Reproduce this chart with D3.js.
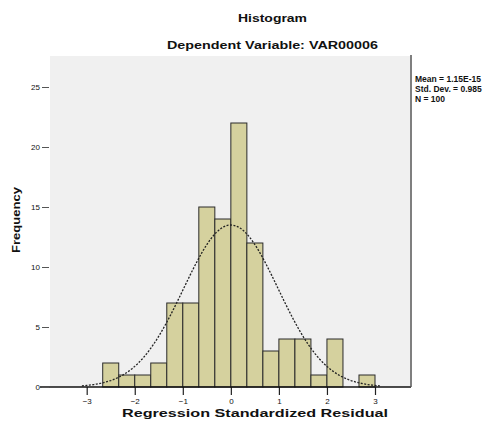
<!DOCTYPE html>
<html>
<head>
<meta charset="utf-8">
<script src="https://cdn.jsdelivr.net/npm/d3@7"></script>
<style>
	body { margin: 0; background: #fff; }
	text { font-family: "Liberation Sans", Arial, sans-serif; fill: #111; }
</style>
</head>
<body>
<div id="chart-area"></div>
<script>
// Data
var binStarts = [-8/3, -7/3, -2, -5/3, -4/3, -1, -2/3, -1/3, 0, 1/3, 2/3, 1, 4/3, 5/3, 2, 7/3, 8/3];
var counts = [2, 1, 1, 2, 7, 7, 15, 14, 22, 12, 3, 4, 4, 1, 4, 0, 1];
var binWidth = 1 / 3;
var xTicks = [-3, -2, -1, 0, 1, 2, 3];
var yTicks = [0, 5, 10, 15, 20, 25];
var stats = { mean: 1.15e-15, sd: 0.985, n: 100 };
var legendLines = ["Mean = 1.15E-15", "Std. Dev. = 0.985", "N = 100"];

var width = 490, height = 427;
var plot = { left: 50, right: 410, top: 56, bottom: 387 };

var svg = d3.select("#chart-area")
	.append("svg")
	.attr("width", width)
	.attr("height", height);

// Scales
var x = d3.scaleLinear()
	.domain([-3, 3])
	.range([86.7, 375]);

var y = d3.scaleLinear()
	.domain([0, 25])
	.range([plot.bottom, 87]);

// Plot background
svg.append("rect")
	.attr("x", plot.left)
	.attr("y", plot.top)
	.attr("width", plot.right - plot.left)
	.attr("height", plot.bottom - plot.top)
	.attr("fill", "#f0f0f0");

// Titles
svg.append("text")
	.attr("x", 272.5)
	.attr("y", 22)
	.attr("text-anchor", "middle")
	.attr("font-size", "11px")
	.attr("font-weight", "bold")
	.attr("textLength", 69)
	.attr("lengthAdjust", "spacingAndGlyphs")
	.text("Histogram");

svg.append("text")
	.attr("x", 272.5)
	.attr("y", 49)
	.attr("text-anchor", "middle")
	.attr("font-size", "11px")
	.attr("font-weight", "bold")
	.attr("textLength", 211)
	.attr("lengthAdjust", "spacingAndGlyphs")
	.text("Dependent Variable: VAR00006");

// Bars
svg.append("g")
	.attr("class", "bars")
	.selectAll("rect")
	.data(counts)
	.enter()
	.append("rect")
	.attr("x", function (d, i) { return x(binStarts[i]); })
	.attr("y", function (d) { return y(d); })
	.attr("width", function (d, i) { return x(binStarts[i] + binWidth) - x(binStarts[i]); })
	.attr("height", function (d) { return y(0) - y(d); })
	.attr("fill", "#d5d19e")
	.attr("stroke", "#2a2a2a")
	.attr("stroke-width", 1)
	.style("display", function (d) { return d > 0 ? null : "none"; });

// Normal curve from the legend values
var curvePts = d3.range(-3.1, 3.101, 0.05).map(function (v) {
	var z = (v - stats.mean) / stats.sd;
	return [v, stats.n * binWidth * Math.exp(-0.5 * z * z) / (stats.sd * Math.sqrt(2 * Math.PI))];
});

svg.append("path")
	.datum(curvePts)
	.attr("fill", "none")
	.attr("stroke", "#222")
	.attr("stroke-width", 1.3)
	.attr("stroke-dasharray", "2,1.5")
	.attr("d", d3.line()
		.x(function (d) { return x(d[0]); })
		.y(function (d) { return y(d[1]); }));

// X Axis
var xAxis = svg.append("g")
	.attr("class", "x-axis")
	.attr("transform", "translate(0," + plot.bottom + ")")
	.call(d3.axisBottom(x).tickValues(xTicks).tickFormat(d3.format("d")).tickSize(8).tickPadding(3));
xAxis.select(".domain").remove();
xAxis.selectAll("line").attr("stroke", "#222").attr("stroke-width", 1.2);
xAxis.selectAll("text").attr("font-size", "8px").attr("fill", "#333")
	.attr("font-family", "'Liberation Sans', Arial, sans-serif");

svg.append("line")
	.attr("x1", 40).attr("x2", plot.right + 1)
	.attr("y1", plot.bottom).attr("y2", plot.bottom)
	.attr("stroke", "#111")
	.attr("stroke-width", 1.5);

// Y Axis
var yAxis = svg.append("g")
	.attr("class", "y-axis")
	.attr("transform", "translate(" + (plot.left - 1) + ",0)")
	.call(d3.axisLeft(y).tickValues(yTicks).tickSize(7).tickPadding(2));
yAxis.select(".domain").remove();
yAxis.selectAll("line").attr("stroke", "#555");
yAxis.selectAll("text").attr("font-size", "8px").attr("fill", "#333")
	.attr("font-family", "'Liberation Sans', Arial, sans-serif");

// Right frame line
svg.append("line")
	.attr("x1", plot.right + 1).attr("x2", plot.right + 1)
	.attr("y1", plot.top - 1).attr("y2", plot.bottom)
	.attr("stroke", "#555")
	.attr("stroke-width", 1.5);

// Axis labels
svg.append("text")
	.attr("x", 255)
	.attr("y", 417)
	.attr("text-anchor", "middle")
	.attr("font-size", "11px")
	.attr("font-weight", "bold")
	.attr("textLength", 266)
	.attr("lengthAdjust", "spacingAndGlyphs")
	.text("Regression Standardized Residual");

svg.append("text")
	.attr("transform", "translate(20,220) rotate(-90)")
	.attr("text-anchor", "middle")
	.attr("font-size", "10px")
	.attr("font-weight", "bold")
	.attr("textLength", 66)
	.attr("lengthAdjust", "spacingAndGlyphs")
	.text("Frequency");

// Legend
svg.append("g")
	.attr("class", "legend")
	.selectAll("text")
	.data(legendLines)
	.enter()
	.append("text")
	.attr("x", 415)
	.attr("y", function (d, i) { return 82 + i * 10; })
	.attr("font-size", "8.5px")
	.attr("font-weight", "bold")
	.text(function (d) { return d; });
</script>
</body>
</html>
